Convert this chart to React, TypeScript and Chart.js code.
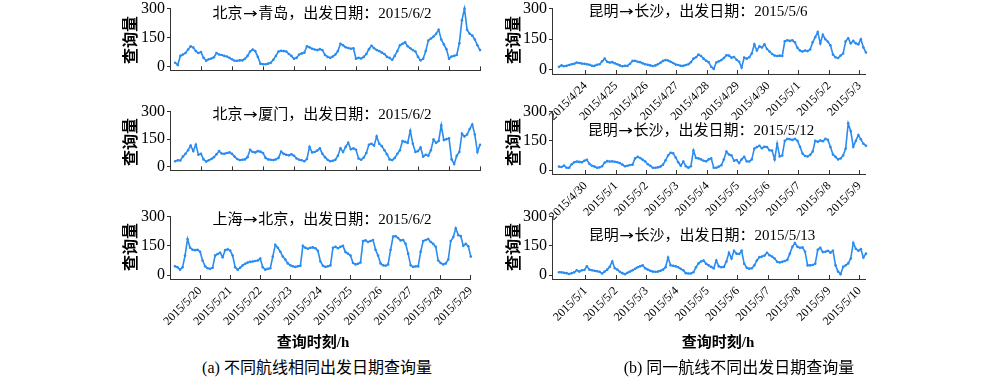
import React, { useEffect, useRef } from "react";
import { Chart, registerables } from "chart.js";

Chart.register(...registerables);

const LINE_COLOR = "#2a8cf0";
const AXIS_COLOR = "#333333";
const SERIF = "'Liberation Serif', 'Times New Roman', 'Noto Sans CJK SC', serif";
const CJK = "'Noto Sans CJK SC', 'Liberation Serif', serif";

// Sampling: every 2 hours, hours counted from midnight of the first labelled day
const stepHours = 2;
const leftStartHour = -20;
const rightStartHour = -21;
const dayTickHours = [0, 24, 48, 72, 96, 120, 144, 168, 192, 216];
const yTickValues = [0, 150, 300];

const leftTickLabels = ["2015/5/20", "2015/5/21", "2015/5/22", "2015/5/23", "2015/5/24", "2015/5/25", "2015/5/26", "2015/5/27", "2015/5/28", "2015/5/29"];
const r1TickLabels = ["2015/4/24", "2015/4/25", "2015/4/26", "2015/4/27", "2015/4/28", "2015/4/29", "2015/4/30", "2015/5/1", "2015/5/2", "2015/5/3"];
const r2TickLabels = ["2015/4/30", "2015/5/1", "2015/5/2", "2015/5/3", "2015/5/4", "2015/5/5", "2015/5/6", "2015/5/7", "2015/5/8", "2015/5/9"];
const r3TickLabels = ["2015/5/1", "2015/5/2", "2015/5/3", "2015/5/4", "2015/5/5", "2015/5/6", "2015/5/7", "2015/5/8", "2015/5/9", "2015/5/10"];

// 北京→青岛
const bjQingdao = [
  20, 8, 55, 62, 70, 88, 105, 98, 80, 70,
  75, 45, 30, 38, 42, 48, 70, 62, 60, 55, 52, 45,
  38, 30, 30, 32, 32, 40, 55, 78, 88, 80, 50, 15,
  12, 12, 15, 20, 35, 55, 78, 82, 80, 78, 65, 55,
  40, 45, 62, 68, 72, 105, 100, 92, 88, 85, 90, 85,
  60, 50, 45, 52, 62, 80, 118, 110, 100, 96, 92, 95,
  40, 45, 42, 50, 65, 90, 108, 95, 85, 80, 72, 65,
  50, 45, 35, 55, 80, 110, 118, 125, 105, 95, 85, 78,
  50, 32, 40, 80, 135, 145, 155, 170, 190, 140, 115, 90,
  40, 52, 55, 60, 120, 240, 300, 190, 170, 160, 140, 110,
  85,
];
// 北京→厦门
const bjXiamen = [
  30, 35, 34, 55, 70, 90, 115, 85, 120, 65,
  70, 40, 28, 35, 42, 52, 68, 85, 72, 70, 75, 78,
  70, 55, 42, 36, 38, 40, 52, 92, 80, 78, 85, 82,
  75, 48, 40, 38, 36, 40, 48, 82, 70, 65, 62, 68,
  60, 45, 38, 35, 30, 42, 108, 78, 80, 88, 100, 70,
  52, 38, 30, 32, 38, 60, 100, 80, 108, 130, 95, 100,
  92, 45, 38, 50, 75, 120, 125, 115, 165, 125, 112, 90,
  68, 40, 36, 48, 70, 90, 140, 135, 130, 195, 125, 80,
  85, 105, 55, 65, 60, 90, 148, 130, 140, 225, 145, 150,
  155, 40, 15, 60, 80, 180, 165, 175, 205, 230, 175, 80,
  120,
];
// 上海→北京
const shBeijing = [
  45, 40, 28, 40, 100, 185, 140, 130, 128, 130,
  120, 75, 45, 35, 32, 38, 100, 108, 115, 92, 128, 132,
  126, 100, 40, 28, 38, 50, 58, 65, 68, 70, 72, 75,
  85, 40, 28, 32, 35, 95, 155, 140, 120, 95, 80, 60,
  50, 45, 42, 45, 48, 150, 140, 135, 140, 142, 138, 125,
  70, 48, 42, 45, 50, 140, 145, 138, 145, 150, 118, 110,
  100, 62, 55, 58, 65, 175, 178, 170, 175, 180, 130, 100,
  60, 50, 48, 55, 130, 198, 200, 190, 178, 180, 160, 110,
  50, 42, 45, 45, 120, 175, 180, 185, 170, 160, 145, 75,
  62, 55, 60, 80, 175, 195, 240, 205, 200, 150, 160, 148,
  95,
];
// 昆明→长沙 2015/5/6
const kmCs0506 = [
  15, 22, 18, 20, 24, 28, 30, 36, 34, 31,
  30, 28, 25, 20, 20, 25, 28, 42, 55, 40, 36, 38,
  32, 28, 22, 18, 20, 20, 30, 44, 45, 40, 38, 32,
  28, 25, 22, 19, 22, 28, 35, 44, 48, 46, 40, 34,
  26, 24, 20, 20, 24, 28, 38, 55, 62, 75, 68, 55,
  45, 38, 15, 5, 36, 42, 48, 58, 72, 70, 60, 63,
  50, 40, 12, 60, 55, 62, 80, 125, 95, 115, 110, 125,
  102, 90, 78, 70, 68, 70, 68, 140, 145, 142, 145, 135,
  108, 95, 90, 95, 92, 100, 135, 160, 185, 130, 172, 150,
  138, 120, 75, 62, 58, 70, 80, 140, 155, 130, 142, 130,
  125, 150, 110, 85,
];
// 昆明→长沙 2015/5/12
const kmCs0512 = [
  18, 16, 23, 12, 12, 30, 40, 44, 42, 40,
  48, 53, 32, 22, 18, 12, 14, 20, 38, 46, 44, 45,
  43, 40, 36, 28, 20, 22, 26, 28, 60, 68, 62, 53,
  44, 30, 22, 12, 12, 14, 18, 28, 50, 75, 89, 86,
  65, 40, 22, 44, 20, 12, 20, 100, 62, 60, 55, 48,
  45, 55, 60, 12, 12, 18, 25, 55, 95, 80, 75, 48,
  52, 36, 55, 68, 45, 44, 55, 110, 118, 125, 112, 120,
  118, 102, 100, 55, 135, 70, 75, 150, 160, 158, 155, 160,
  150, 120, 85, 72, 70, 78, 95, 150, 145, 152, 148, 160,
  155, 118, 80, 68, 55, 60, 75, 110, 240, 200, 120, 150,
  180, 158, 135, 125,
];
// 昆明→长沙 2015/5/13
const kmCs0513 = [
  15, 14, 12, 10, 6, 10, 14, 25, 18, 25,
  26, 45, 28, 25, 22, 20, 17, 8, 18, 28, 42, 70,
  35, 28, 17, 10, 5, 12, 18, 25, 32, 40, 45, 50,
  35, 28, 22, 18, 17, 18, 22, 28, 40, 90, 50, 48,
  45, 40, 32, 25, 10, 8, 8, 15, 40, 60, 70, 75,
  58, 50, 42, 35, 75, 45, 40, 42, 70, 115, 85, 125,
  110, 108, 125, 58, 38, 33, 35, 50, 75, 92, 95, 100,
  115, 102, 95, 85, 68, 65, 68, 72, 78, 110, 145, 165,
  145, 140, 142, 120, 50, 50, 52, 58, 130, 140, 118, 120,
  125, 115, 125, 50, 18, 5, 42, 50, 60, 85, 165, 135,
  125, 133, 90, 110,
];

type Panel = {
  values: number[];
  start: number;
  xMin: number;
  xMax: number;
  labels: string[] | null;
  left: number;
  width: number;
  top: number;
  bottom: number;
};

const LEFT_X = 170;
const LEFT_W = 310;
const RIGHT_X = 552;
const RIGHT_W = 317;
const ROW_TOP = [7, 110, 215];
const ROW_BOTTOM = [74, 174, 279];

const panels: Panel[] = [
  { values: bjQingdao, start: leftStartHour, xMin: -24, xMax: 216, labels: null, left: LEFT_X, width: LEFT_W, top: ROW_TOP[0], bottom: ROW_BOTTOM[0] },
  { values: bjXiamen, start: leftStartHour, xMin: -24, xMax: 216, labels: null, left: LEFT_X, width: LEFT_W, top: ROW_TOP[1], bottom: ROW_BOTTOM[1] },
  { values: shBeijing, start: leftStartHour, xMin: -24, xMax: 216, labels: leftTickLabels, left: LEFT_X, width: LEFT_W, top: ROW_TOP[2], bottom: ROW_BOTTOM[2] },
  { values: kmCs0506, start: rightStartHour, xMin: -26.5, xMax: 221, labels: r1TickLabels, left: RIGHT_X, width: RIGHT_W, top: ROW_TOP[0], bottom: ROW_BOTTOM[0] },
  { values: kmCs0512, start: rightStartHour, xMin: -26.5, xMax: 221, labels: r2TickLabels, left: RIGHT_X, width: RIGHT_W, top: ROW_TOP[1], bottom: ROW_BOTTOM[1] },
  { values: kmCs0513, start: rightStartHour, xMin: -26.5, xMax: 221, labels: r3TickLabels, left: RIGHT_X, width: RIGHT_W, top: ROW_TOP[2], bottom: ROW_BOTTOM[2] },
];

const YW = 48;
const PT = 10;
const PR = 10;

function MiniChart({ p }: { p: Panel }) {
  const ref = useRef<HTMLCanvasElement>(null);
  const xh = p.labels ? 62 : 8;
  const w = YW + p.width + PR;
  const h = PT + (p.bottom - p.top) + xh;

  useEffect(() => {
    if (!ref.current) return;
    const data = p.values.map((v, i) => ({ x: p.start + i * stepHours, y: v }));
    const chart = new Chart(ref.current, {
      type: "line",
      data: {
        datasets: [
          {
            data,
            borderColor: LINE_COLOR,
            backgroundColor: LINE_COLOR,
            borderWidth: 1.6,
            pointRadius: 1.3,
            pointBorderWidth: 0,
            pointBackgroundColor: LINE_COLOR,
            tension: 0,
            clip: false as any,
          },
        ],
      },
      options: {
        responsive: false,
        animation: false,
        devicePixelRatio: 1,
        layout: { padding: { top: PT, right: PR, left: 0, bottom: 0 } },
        plugins: { legend: { display: false }, tooltip: { enabled: false }, title: { display: false } },
        scales: {
          x: {
            type: "linear",
            min: p.xMin,
            max: p.xMax,
            afterBuildTicks: (s: any) => {
              s.ticks = dayTickHours.map((v) => ({ value: v }));
            },
            afterFit: (s: any) => {
              s.height = xh;
            },
            grid: { drawOnChartArea: false, drawTicks: true, tickLength: -4, color: AXIS_COLOR, lineWidth: 1 },
            border: { display: true, color: AXIS_COLOR, width: 1 },
            ticks: {
              display: !!p.labels,
              autoSkip: false,
              minRotation: 45,
              maxRotation: 45,
              padding: 9,
              color: "#000",
              font: { family: SERIF, size: 12 },
              callback: (_v: any, i: number) => (p.labels ? p.labels[i] : ""),
            },
          },
          y: {
            min: -20,
            max: 300,
            afterBuildTicks: (s: any) => {
              s.ticks = yTickValues.map((v) => ({ value: v }));
            },
            afterFit: (s: any) => {
              s.width = YW;
            },
            grid: { drawOnChartArea: false, drawTicks: true, tickLength: 3, color: AXIS_COLOR, lineWidth: 1 },
            border: { display: true, color: AXIS_COLOR, width: 1 },
            ticks: {
              padding: 2,
              color: "#000",
              font: { family: SERIF, size: 16 },
              callback: (v: any) => String(v),
            },
          },
        },
      },
    });
    return () => chart.destroy();
  }, []);

  return (
    <canvas
      ref={ref}
      width={w}
      height={h}
      style={{ position: "absolute", left: p.left - YW, top: p.top - PT, width: w, height: h }}
    />
  );
}

function Txt({ children, cx, cy, size, bold, rotate, family }: { children: React.ReactNode; cx: number; cy: number; size: number; bold?: boolean; rotate?: boolean; family?: string }) {
  return (
    <div
      style={{
        position: "absolute",
        left: cx,
        top: cy,
        transform: `translate(-50%, -50%)${rotate ? " rotate(-90deg)" : ""}`,
        whiteSpace: "nowrap",
        fontSize: size,
        lineHeight: 1,
        fontFamily: family || SERIF,
        fontWeight: bold ? 700 : 400,
        color: "#000",
      }}
    >
      {children}
    </div>
  );
}

const titles = [
  { from: "北京", to: "青岛", date: "2015/6/2", cx: 322, cy: 12 },
  { from: "北京", to: "厦门", date: "2015/6/2", cx: 322, cy: 113 },
  { from: "上海", to: "北京", date: "2015/6/2", cx: 322, cy: 218 },
  { from: "昆明", to: "长沙", date: "2015/5/6", cx: 698, cy: 10 },
  { from: "昆明", to: "长沙", date: "2015/5/12", cx: 701, cy: 129 },
  { from: "昆明", to: "长沙", date: "2015/5/13", cx: 702, cy: 234 },
];

export default function App() {
  return (
    <div style={{ position: "absolute", left: 0, top: 0, width: 1000, height: 382, background: "#fff", overflow: "hidden" }}>
      {panels.map((p, i) => (
        <MiniChart key={i} p={p} />
      ))}
      {titles.map((t, i) => (
        <Txt key={"t" + i} cx={t.cx} cy={t.cy} size={15} family={CJK}>
          <span>{t.from}</span>
          <span style={{ fontFamily: "'DejaVu Sans', sans-serif", fontSize: 14, display: "inline-block", transform: "scaleX(1.25)", margin: "0 2px" }}>→</span>
          <span>{t.to}，出发日期：</span>
          <span style={{ fontFamily: SERIF }}>{t.date}</span>
        </Txt>
      ))}
      {[40, 142, 247].map((cy, i) => (
        <Txt key={"yl" + i} cx={131} cy={cy} size={16} bold rotate>查询量</Txt>
      ))}
      {[40, 142, 247].map((cy, i) => (
        <Txt key={"yr" + i} cx={514} cy={cy} size={16} bold rotate>查询量</Txt>
      ))}
      <Txt cx={313} cy={342} size={15} bold>查询时刻/h</Txt>
      <Txt cx={718} cy={342} size={15} bold>查询时刻/h</Txt>
      <Txt cx={317} cy={368} size={16}>(a) 不同航线相同出发日期查询量</Txt>
      <Txt cx={739} cy={368} size={16}>(b) 同一航线不同出发日期查询量</Txt>
    </div>
  );
}
